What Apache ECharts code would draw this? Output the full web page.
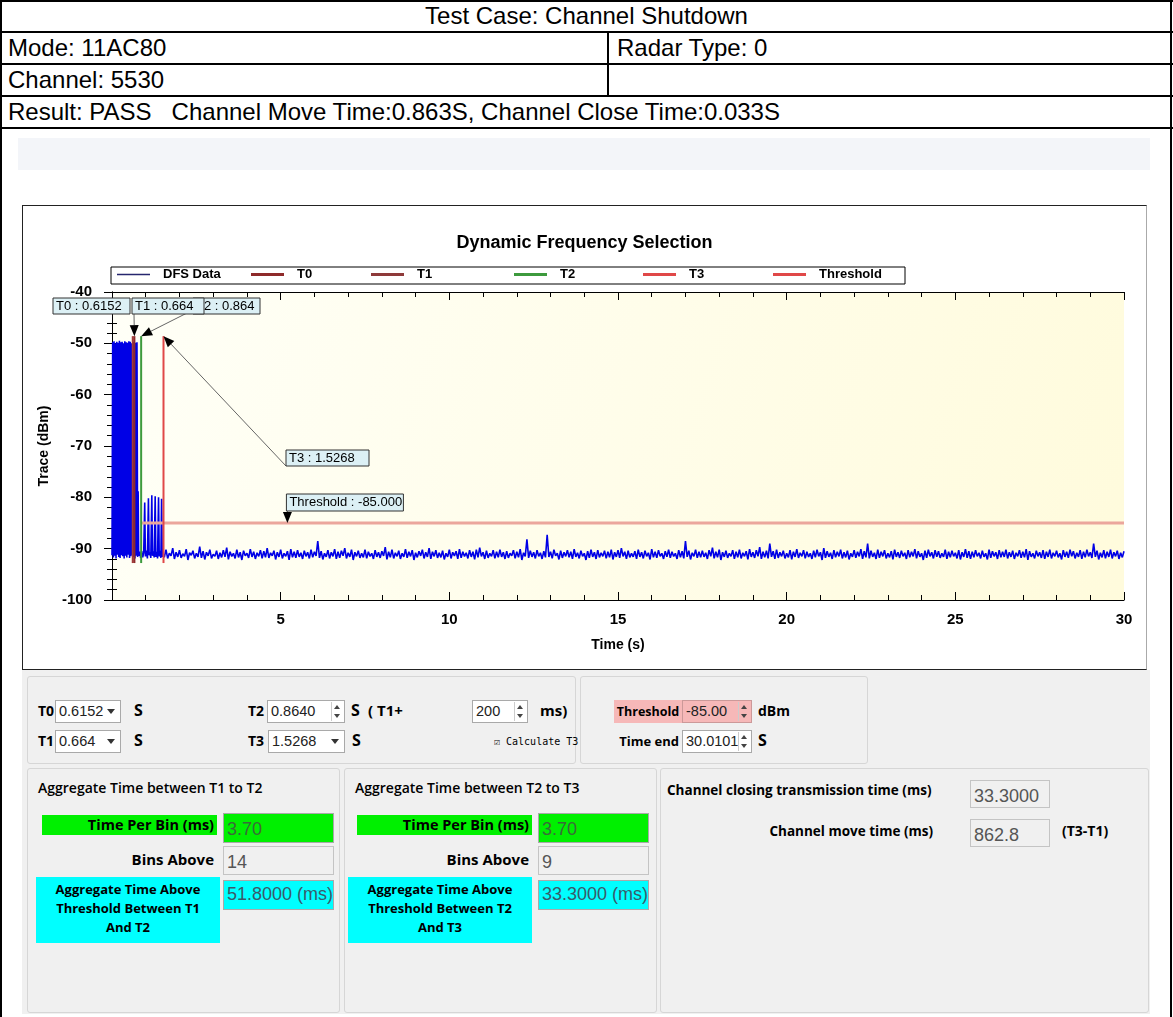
<!DOCTYPE html>
<html>
<head>
<meta charset="utf-8">
<title>Channel Shutdown</title>
<script src="https://cdn.jsdelivr.net/npm/echarts@6/dist/echarts.min.js"></script>
<style>
html, body { margin: 0; padding: 0; background: #fff; }
body { width: 1173px; height: 1017px; position: relative; overflow: hidden; font-family: "Liberation Sans", Arial, sans-serif; }
.ln { position: absolute; background: #000; }
.cell { position: absolute; font-size: 24px; line-height: 32px; color: #000; white-space: pre; }
.band { position: absolute; left: 18px; top: 138px; width: 1132px; height: 32px; background: #f3f5f9; }
#chart { position: absolute; left: 22px; top: 205px; width: 1125px; height: 465px; border: 1px solid #222; border-right-color: #aaa; box-sizing: border-box; background: #fff; }
.panel { position: absolute; left: 22px; top: 670px; width: 1128px; height: 344px; background: #f0f0f0; }
.grp { position: absolute; border: 1px solid #d6d6d6; border-radius: 3px; background: #f0f0f0; box-sizing: border-box; }
.lbl { position: absolute; font-family: "Open Sans", "Noto Sans", sans-serif; font-weight: 700; font-size: 13px; color: #000; white-space: nowrap; line-height: 20px; }
.ttl { position: absolute; font-family: "Open Sans", "Noto Sans", sans-serif; font-weight: 600; font-size: 14px; color: #000; white-space: nowrap; }
.box { position: absolute; border: 1px solid #a9a9a9; background: #fff; box-sizing: border-box; font-size: 14.5px; color: #222; padding-left: 3px; white-space: nowrap; overflow: hidden; }
.big { font-size: 18px; }
.ro { background: #f0f0f0; color: #555; border-color: #c4c4c4; }
.drop { position: absolute; right: 5px; top: 8px; width: 0; height: 0; border-left: 4px solid transparent; border-right: 4px solid transparent; border-top: 5px solid #333; }
.spin { position: absolute; right: 1px; top: 1px; width: 11px; bottom: 1px; border-left: 1px solid #ccc; background: inherit; }
.spin:before { content: ""; position: absolute; left: 2px; top: 3px; border-left: 3px solid transparent; border-right: 3px solid transparent; border-bottom: 4px solid #444; }
.spin:after { content: ""; position: absolute; left: 2px; bottom: 3px; border-left: 3px solid transparent; border-right: 3px solid transparent; border-top: 4px solid #444; }
.green { background: #00f000; }
.cyan { background: #00ffff; }
.pink { background: #f6b8b8; }
.chk { position: absolute; font-family: "DejaVu Sans Mono", monospace; font-size: 10px; color: #000; white-space: nowrap; }
</style>
</head>
<body>

<!-- 表格框线 -->
<div class="ln" style="left:0;top:0;width:1173px;height:2px;"></div>
<div class="ln" style="left:0;top:31px;width:1173px;height:2px;"></div>
<div class="ln" style="left:0;top:63px;width:1173px;height:2px;"></div>
<div class="ln" style="left:0;top:95px;width:1173px;height:2px;"></div>
<div class="ln" style="left:0;top:127px;width:1173px;height:2px;"></div>
<div class="ln" style="left:0;top:0;width:2px;height:1017px;"></div>
<div class="ln" style="left:1170px;top:0;width:2px;height:1017px;"></div>
<div class="ln" style="left:607px;top:32px;width:2px;height:64px;"></div>

<div class="cell" style="left:0;top:0;width:1173px;text-align:center;">Test Case: Channel Shutdown</div>
<div class="cell" style="left:8px;top:32px;">Mode: 11AC80</div>
<div class="cell" style="left:617px;top:32px;">Radar Type: 0</div>
<div class="cell" style="left:8px;top:64px;">Channel: 5530</div>
<div class="cell" style="left:8px;top:96px;">Result: PASS   Channel Move Time:0.863S, Channel Close Time:0.033S</div>

<div class="band"></div>
<div id="chart"></div>

<!-- 控制面板 -->
<div class="panel"></div>
<div class="grp" style="left:27px;top:676px;width:549px;height:88px;"></div>
<div class="grp" style="left:580px;top:676px;width:288px;height:88px;"></div>

<div class="lbl" style="left:38px;top:701px;font-size:14px;">T0</div>
<div class="box" style="left:55px;top:700px;width:66px;height:23px;line-height:21px;">0.6152<span class="drop"></span></div>
<div class="lbl" style="left:134px;top:700px;font-size:16px;">S</div>
<div class="lbl" style="left:38px;top:731px;font-size:14px;">T1</div>
<div class="box" style="left:55px;top:730px;width:66px;height:23px;line-height:21px;">0.664<span class="drop"></span></div>
<div class="lbl" style="left:134px;top:730px;font-size:16px;">S</div>

<div class="lbl" style="left:248px;top:701px;font-size:14px;">T2</div>
<div class="box" style="left:267px;top:700px;width:78px;height:23px;line-height:21px;">0.8640<span class="spin"></span></div>
<div class="lbl" style="left:351px;top:700px;font-size:16px;">S</div>
<div class="lbl" style="left:368px;top:700px;font-size:15px;">( T1+</div>
<div class="box" style="left:472px;top:700px;width:56px;height:23px;line-height:21px;">200<span class="spin"></span></div>
<div class="lbl" style="left:540px;top:700px;font-size:15px;">ms)</div>
<div class="lbl" style="left:248px;top:731px;font-size:14px;">T3</div>
<div class="box" style="left:268px;top:730px;width:77px;height:23px;line-height:21px;">1.5268<span class="drop"></span></div>
<div class="lbl" style="left:352px;top:730px;font-size:16px;">S</div>
<div class="chk" style="left:494px;top:736px;">&#9745; Calculate T3</div>

<div class="lbl pink" style="left:614px;top:700px;width:68px;height:23px;line-height:23px;text-align:center;font-size:12.5px;">Threshold</div>
<div class="box pink" style="left:682px;top:700px;width:70px;height:23px;line-height:21px;border-color:#c99;">-85.00<span class="spin"></span></div>
<div class="lbl" style="left:758px;top:701px;font-size:14px;">dBm</div>
<div class="lbl" style="left:612px;top:731px;width:67px;text-align:right;font-size:13px;">Time end</div>
<div class="box" style="left:682px;top:730px;width:70px;height:23px;line-height:21px;">30.0101<span class="spin"></span></div>
<div class="lbl" style="left:758px;top:730px;font-size:16px;">S</div>

<div class="grp" style="left:27px;top:768px;width:313px;height:245px;"></div>
<div class="grp" style="left:344px;top:768px;width:313px;height:245px;"></div>
<div class="grp" style="left:660px;top:768px;width:489px;height:245px;"></div>

<div class="ttl" style="left:38px;top:778px;">Aggregate Time between T1 to T2</div>
<div class="lbl green" style="left:42px;top:815px;width:172px;height:20px;text-align:right;padding-right:3px;font-size:14.5px;">Time Per Bin (ms)</div>
<div class="box green big" style="left:223px;top:813px;width:111px;height:30px;line-height:30px;color:#3a6a3a;">3.70</div>
<div class="lbl" style="left:40px;top:849px;width:174px;text-align:right;font-size:15px;">Bins Above</div>
<div class="box ro big" style="left:223px;top:846px;width:111px;height:29px;line-height:31px;">14</div>
<div class="lbl cyan" style="left:36px;top:877px;width:184px;height:66px;text-align:center;font-size:13px;line-height:19px;padding-top:3px;box-sizing:border-box;">Aggregate Time Above<br>Threshold Between T1<br>And T2</div>
<div class="box cyan big" style="left:223px;top:880px;width:111px;height:30px;line-height:26px;color:#3a5a6a;">51.8000 (ms)</div>

<div class="ttl" style="left:355px;top:778px;">Aggregate Time between T2 to T3</div>
<div class="lbl green" style="left:357px;top:815px;width:172px;height:20px;text-align:right;padding-right:3px;font-size:14.5px;">Time Per Bin (ms)</div>
<div class="box green big" style="left:538px;top:813px;width:111px;height:30px;line-height:30px;color:#3a6a3a;">3.70</div>
<div class="lbl" style="left:355px;top:849px;width:174px;text-align:right;font-size:15px;">Bins Above</div>
<div class="box ro big" style="left:538px;top:846px;width:111px;height:29px;line-height:31px;">9</div>
<div class="lbl cyan" style="left:348px;top:877px;width:184px;height:66px;text-align:center;font-size:13px;line-height:19px;padding-top:3px;box-sizing:border-box;">Aggregate Time Above<br>Threshold Between T2<br>And T3</div>
<div class="box cyan big" style="left:538px;top:880px;width:111px;height:30px;line-height:26px;color:#3a5a6a;">33.3000 (ms)</div>

<div class="lbl" style="left:667px;top:780px;font-size:13.5px;">Channel closing transmission time (ms)</div>
<div class="box ro big" style="left:970px;top:780px;width:80px;height:28px;line-height:30px;">33.3000</div>
<div class="lbl" style="left:700px;top:821px;width:233px;text-align:right;font-size:13.5px;">Channel move time (ms)</div>
<div class="box ro big" style="left:970px;top:819px;width:80px;height:28px;line-height:30px;">862.8</div>
<div class="lbl" style="left:1062px;top:821px;font-size:14px;">(T3-T1)</div>

<script>
// 标记时间 (s)
const MARKER_NAMES = ['T0', 'T1', 'T2', 'T3']
const MARKER_TIMES = [0.6152, 0.664, 0.8640, 1.5268]
const MARKER_TOP = -48.6
const MARKER_BOTTOM = -92.8
const THRESHOLD = -85
const THRESHOLD_ARROW_T = 5.2

// DFS 数据 - 雷达突发段 (0 s 起, 每 0.02 s 一点)
const BURST_STEP = 0.02
const BURST_VALUES = [
  -91.3, -49.8, -91.7, -49.6, -91.4, -50.0, -91.9, -49.7, -91.2, -49.9,
  -91.6, -49.5, -91.8, -49.8, -91.3, -49.7, -91.5, -50.0, -91.9, -49.6,
  -91.4, -49.8, -91.7, -49.9, -91.2, -49.6, -91.8, -49.7, -91.5, -50.0,
  -91.3, -49.8, -91.6, -49.7, -91.9, -49.9, -91.4, -49.8
]

// DFS 数据 - T1 到 T3 之间的尖峰 [时间, dBm]
const GAP_POINTS = [
  [0.76, -91.6], [0.775, -78.8], [0.79, -91.4], [0.82, -90.6], [0.85, -91.8],
  [0.88, -90.5], [0.91, -91.7], [0.94, -90.8], [0.97, -81.0], [0.99, -91.5],
  [1.02, -90.4], [1.05, -91.9], [1.08, -80.2], [1.10, -91.3], [1.13, -90.7],
  [1.15, -91.8], [1.18, -79.6], [1.20, -91.4], [1.23, -90.5], [1.25, -91.7],
  [1.28, -79.8], [1.30, -91.6], [1.33, -90.6], [1.35, -91.9], [1.38, -80.0],
  [1.40, -91.5], [1.43, -90.4], [1.45, -91.8], [1.47, -80.3], [1.49, -91.6]
]

// DFS 数据 - 底噪 (1.5 s 起, 每 0.05 s 一点)
const NOISE_START = 1.5
const NOISE_STEP = 0.05
const NOISE_VALUES = [
  -90.6, -91.7, -90.2, -91.9, -90.9, -91.4, -89.9, -92.0, -90.7, -91.6, -90.3, -91.8, -91.0, -91.5, -90.1, -92.2, -90.8, -91.3, -90.4, -91.9,
  -90.9, -91.6, -89.6, -91.8, -90.5, -92.1, -90.7, -91.4, -90.2, -91.9, -91.1, -91.5, -90.4, -92.0, -90.8, -91.7, -90.3, -91.6, -89.8, -92.1,
  -90.6, -91.5, -90.9, -91.9, -90.2, -91.7, -90.7, -92.2, -90.4, -91.4, -90.9, -91.8, -90.1, -91.6, -90.6, -92.0, -90.8, -91.5, -90.3, -91.9,
  -90.5, -91.7, -89.9, -91.8, -90.8, -91.4, -90.4, -92.1, -90.7, -91.6, -90.2, -91.9, -90.9, -91.5, -90.5, -92.2, -90.1, -91.7, -90.6, -91.8,
  -90.3, -91.6, -90.8, -92.0, -90.4, -91.5, -90.7, -91.9, -90.2, -91.7, -90.6, -91.4, -88.5, -91.8, -90.5, -92.1, -90.9, -91.6, -90.3, -91.9,
  -90.7, -91.5, -90.1, -92.0, -90.6, -91.8, -90.4, -91.4, -89.9, -91.9, -90.8, -91.6, -90.2, -92.2, -90.7, -91.5, -90.4, -91.8, -90.9, -91.7,
  -90.2, -91.9, -90.6, -91.5, -90.9, -92.0, -90.3, -91.6, -90.7, -91.8, -90.5, -91.4, -89.7, -92.1, -90.6, -91.7, -90.2, -91.9, -90.8, -91.5,
  -90.4, -92.0, -90.9, -91.6, -90.1, -91.8, -90.6, -91.5, -90.3, -92.2, -90.8, -91.7, -90.5, -91.4, -90.2, -91.9, -90.7, -91.6, -89.9, -92.0,
  -90.6, -91.5, -90.3, -91.8, -90.8, -91.7, -90.4, -92.1, -90.9, -91.6, -90.2, -91.9, -90.7, -91.4, -90.5, -92.0, -90.1, -91.8, -90.6, -91.5,
  -90.8, -91.9, -90.3, -91.6, -90.6, -92.1, -90.2, -91.7, -89.8, -91.5, -90.7, -92.0, -90.4, -91.8, -90.9, -91.5, -90.3, -91.9, -90.6, -91.7,
  -90.2, -91.6, -90.7, -92.0, -90.5, -91.8, -90.9, -91.4, -90.3, -91.9, -90.6, -91.7, -90.1, -92.2, -90.8, -91.5, -88.2, -91.8, -90.4, -91.6,
  -90.7, -91.9, -90.3, -91.5, -90.8, -92.0, -90.5, -91.7, -87.3, -91.6, -90.6, -91.9, -90.2, -91.4, -90.9, -92.1, -90.4, -91.8, -90.7, -91.5,
  -90.3, -91.7, -90.6, -92.0, -90.1, -91.6, -90.8, -91.9, -90.4, -91.5, -90.9, -92.2, -90.5, -91.8, -90.2, -91.6, -90.7, -92.0, -90.3, -91.7,
  -90.8, -91.5, -90.4, -91.9, -90.6, -91.7, -90.2, -92.1, -90.7, -91.6, -90.3, -91.8, -89.9, -91.5, -90.6, -92.0, -90.4, -91.7, -90.9, -91.6,
  -90.5, -92.0, -90.2, -91.6, -90.7, -91.9, -90.4, -91.5, -90.8, -92.1, -90.1, -91.7, -90.6, -91.8, -90.3, -91.5, -90.9, -92.0, -90.5, -91.6,
  -90.2, -91.8, -90.6, -91.5, -90.9, -92.0, -90.3, -91.7, -90.5, -91.9, -88.5, -91.6, -90.4, -92.1, -90.8, -91.5, -90.2, -91.8, -90.6, -91.7,
  -90.4, -91.6, -90.8, -92.0, -90.3, -91.5, -89.8, -91.9, -90.6, -91.7, -90.2, -92.2, -90.7, -91.6, -90.4, -91.8, -90.9, -91.5, -90.3, -92.0,
  -90.6, -91.7, -90.2, -91.9, -90.8, -91.5, -90.5, -92.1, -90.1, -91.6, -90.7, -91.8, -90.3, -91.5, -89.7, -92.0, -90.6, -91.7, -90.4, -91.9,
  -89.0, -91.6, -90.5, -92.0, -90.2, -91.8, -90.7, -91.5, -90.4, -91.9, -90.9, -91.7, -90.3, -92.1, -90.6, -91.6, -90.1, -91.8, -90.8, -91.5,
  -90.3, -91.9, -90.6, -91.6, -90.9, -92.0, -90.4, -91.7, -90.2, -91.5, -90.7, -92.2, -89.9, -91.8, -90.5, -91.6, -90.8, -92.0, -90.3, -91.7,
  -90.6, -91.5, -90.2, -91.9, -90.7, -91.7, -90.4, -92.1, -90.9, -91.6, -90.3, -91.8, -90.6, -91.5, -90.1, -92.0, -90.5, -91.7, -89.0, -91.9,
  -90.4, -91.6, -90.8, -92.0, -90.2, -91.8, -90.6, -91.5, -90.3, -91.9, -90.9, -91.7, -90.5, -92.1, -90.2, -91.6, -90.7, -91.8, -90.4, -91.5,
  -90.8, -92.0, -90.3, -91.7, -90.6, -91.5, -90.1, -91.9, -90.5, -91.6, -90.9, -92.2, -90.4, -91.8, -90.2, -91.5, -90.7, -91.9, -90.3, -91.6,
  -90.5, -91.8, -90.9, -91.6, -90.2, -92.0, -90.6, -91.7, -90.4, -91.5, -90.8, -91.9, -90.3, -92.1, -90.7, -91.6, -90.1, -91.8, -90.5, -92.0,
  -90.6, -91.7, -90.3, -91.5, -90.8, -91.9, -90.4, -91.6, -90.9, -92.1, -90.2, -91.8, -90.5, -91.5, -90.7, -92.0, -90.3, -91.7, -90.6, -91.6,
  -90.2, -91.9, -90.7, -91.6, -90.4, -92.0, -90.8, -91.5, -90.3, -91.8, -90.6, -91.7, -90.1, -92.2, -90.5, -91.6, -90.9, -91.9, -90.4, -91.5,
  -90.7, -91.8, -90.3, -92.0, -90.6, -91.6, -90.2, -91.9, -90.8, -91.5, -90.4, -91.7, -90.9, -92.1, -90.3, -91.6, -90.6, -91.8, -90.2, -91.5,
  -90.5, -91.9, -90.8, -91.6, -90.3, -92.0, -90.6, -91.7, -90.2, -91.5, -90.7, -91.8, -89.0, -91.6, -90.4, -92.1, -90.8, -91.7, -90.3, -91.9,
  -90.6, -91.6, -90.2, -91.9, -90.7, -91.5, -90.4, -92.0, -90.8, -91.7, -90.5
]

// 坐标轴范围
const X_MIN = 0, X_MAX = 30, X_STEP = 5
const Y_MIN = -100, Y_MAX = -40, Y_STEP = 10

const MARKER_COLORS = ['#a33a3a', '#8e2a2a', '#3d9a3d', '#e04848']
const LEGEND_LEFTS = [94, 228, 348, 491, 620, 750]

// 拼出 DFS 轨迹
const dfsData = []
BURST_VALUES.forEach((v, i) => dfsData.push([+(i * BURST_STEP).toFixed(3), v]))
GAP_POINTS.forEach(p => dfsData.push(p))
NOISE_VALUES.forEach((v, i) => dfsData.push([+(NOISE_START + i * NOISE_STEP).toFixed(3), v]))

const chart = echarts.init(document.getElementById('chart'))
const FONT = '"Liberation Sans", Arial, sans-serif'

const axisCommon = {
  axisLine: { lineStyle: { color: '#000', width: 1 } },
  axisTick: { inside: true, length: 8, lineStyle: { color: '#000' } },
  minorTick: { show: true, splitNumber: 5, length: 5, lineStyle: { color: '#000' } },
  splitLine: { show: false }
}

const series = [
  {
    name: 'DFS Data',
    type: 'line',
    data: dfsData,
    showSymbol: false,
    symbol: 'none',
    sampling: null,
    lineStyle: { color: '#0000e6', width: 1.6 },
    itemStyle: { color: '#0000e6' },
    z: 2
  }
]
MARKER_NAMES.forEach((name, i) => {
  series.push({
    name: name,
    type: 'line',
    data: [[MARKER_TIMES[i], MARKER_TOP], [MARKER_TIMES[i], MARKER_BOTTOM]],
    showSymbol: false,
    symbol: 'none',
    lineStyle: { color: MARKER_COLORS[i], width: 2 },
    itemStyle: { color: MARKER_COLORS[i] },
    z: 4
  })
})
series.push({
  name: 'Threshold',
  type: 'line',
  data: [[MARKER_TIMES[2], THRESHOLD], [X_MAX, THRESHOLD]],
  showSymbol: false,
  symbol: 'none',
  lineStyle: { color: '#eba69c', width: 3 },
  itemStyle: { color: '#e04848' },
  z: 3
})

const legendNames = ['DFS Data', 'T0', 'T1', 'T2', 'T3', 'Threshold']
const legendColors = ['#26266e', '#8e2a2a', '#8e3a3a', '#3d9a3d', '#e04848', '#e04848']
const legends = legendNames.map((name, i) => ({
  data: [{ name: name, itemStyle: { color: legendColors[i] } }],
  left: LEGEND_LEFTS[i],
  top: 62,
  icon: 'rect',
  itemWidth: 33,
  itemHeight: i === 0 ? 1.5 : 3,
  selectedMode: false,
  padding: 0,
  textStyle: { fontFamily: FONT, fontWeight: 'bold', fontSize: 13, color: '#000', padding: [0, 0, 0, 8] }
}))

chart.setOption({
  animation: false,
  backgroundColor: '#fff',
  title: {
    text: 'Dynamic Frequency Selection',
    left: 'center',
    top: 28,
    padding: 0,
    textStyle: { fontFamily: FONT, fontWeight: 'bold', fontSize: 18, color: '#000' }
  },
  legend: legends,
  grid: {
    left: 89, top: 86, width: 1012, height: 308,
    show: true,
    borderWidth: 0,
    backgroundColor: new echarts.graphic.LinearGradient(0, 0, 1, 1, [
      { offset: 0, color: '#fffff7' },
      { offset: 1, color: '#fffbdc' }
    ])
  },
  xAxis: [
    Object.assign({}, axisCommon, {
      type: 'value', min: X_MIN, max: X_MAX, interval: X_STEP, position: 'bottom',
      name: 'Time (s)', nameLocation: 'middle', nameGap: 38,
      nameTextStyle: { fontFamily: FONT, fontWeight: 'bold', fontSize: 14, color: '#000' },
      axisLabel: {
        margin: 12, fontFamily: FONT, fontWeight: 'bold', fontSize: 15, color: '#000',
        formatter: v => (v === X_MIN ? '' : String(v))
      }
    }),
    Object.assign({}, axisCommon, {
      type: 'value', min: X_MIN, max: X_MAX, interval: X_STEP, position: 'top',
      axisLabel: { show: false }
    })
  ],
  yAxis: [
    Object.assign({}, axisCommon, {
      type: 'value', min: Y_MIN, max: Y_MAX, interval: Y_STEP, position: 'left',
      name: 'Trace (dBm)', nameLocation: 'middle', nameGap: 60, nameRotate: 90,
      nameTextStyle: { fontFamily: FONT, fontWeight: 'bold', fontSize: 14, color: '#000' },
      axisLabel: { margin: 20, fontFamily: FONT, fontWeight: 'bold', fontSize: 15, color: '#000' }
    }),
    Object.assign({}, axisCommon, {
      type: 'value', min: Y_MIN, max: Y_MAX, interval: Y_STEP, position: 'right',
      axisLabel: { show: false }
    })
  ],
  series: series
})

// 标注框与箭头
const toPx = (t, v) => chart.convertToPixel({ xAxisIndex: 0, yAxisIndex: 0 }, [t, v])

function arrow (from, to, z) {
  const dx = to[0] - from[0]
  const dy = to[1] - from[1]
  const len = Math.hypot(dx, dy)
  const ux = dx / len
  const uy = dy / len
  const L = 11
  const W = 4.5
  const bx = to[0] - ux * L
  const by = to[1] - uy * L
  return [
    { type: 'line', z: z, shape: { x1: from[0], y1: from[1], x2: bx, y2: by }, style: { stroke: '#666', lineWidth: 1 } },
    { type: 'polygon', z: z, shape: { points: [to, [bx - uy * W, by + ux * W], [bx + uy * W, by - ux * W]] }, style: { fill: '#000' } }
  ]
}

function tag (x, y, w, h, text, z) {
  return [
    { type: 'rect', z: z, shape: { x: x, y: y, width: w, height: h }, style: { fill: '#dcf0f5', stroke: '#333', lineWidth: 1 } },
    { type: 'text', z: z + 1, x: x + 3, y: y + h / 2, style: { text: text, fill: '#000', font: '13px ' + FONT, verticalAlign: 'middle' } }
  ]
}

const tipT1 = toPx(MARKER_TIMES[1], MARKER_TOP)
const tipT2 = toPx(MARKER_TIMES[2], MARKER_TOP)
const tipT3 = toPx(MARKER_TIMES[3], MARKER_TOP)
const tipThr = toPx(THRESHOLD_ARROW_T, THRESHOLD)

const graphics = [
  { type: 'rect', z: 50, shape: { x: 88, y: 61, width: 794, height: 17 }, style: { fill: 'none', stroke: '#000', lineWidth: 1 } }
]
  .concat(arrow([164, 107], tipT2, 100))
  .concat(tag(170, 92, 67, 16, 'T2 : ' + MARKER_TIMES[2].toFixed(3), 101))
  .concat(tag(30, 92, 77, 16, 'T0 : ' + MARKER_TIMES[0], 110))
  .concat(arrow([111, 108], tipT1, 120))
  .concat(tag(109, 92, 72, 16, 'T1 : ' + MARKER_TIMES[1], 121))
  .concat(arrow([263, 260], tipT3, 130))
  .concat(tag(263, 244, 83, 16, 'T3 : ' + MARKER_TIMES[3], 131))
  .concat(arrow([tipThr[0], 305], tipThr, 140))
  .concat(tag(tipThr[0] - 1, 288, 117, 17, 'Threshold : ' + THRESHOLD.toFixed(3), 141))

chart.setOption({ graphic: graphics })
</script>
</body>
</html>
